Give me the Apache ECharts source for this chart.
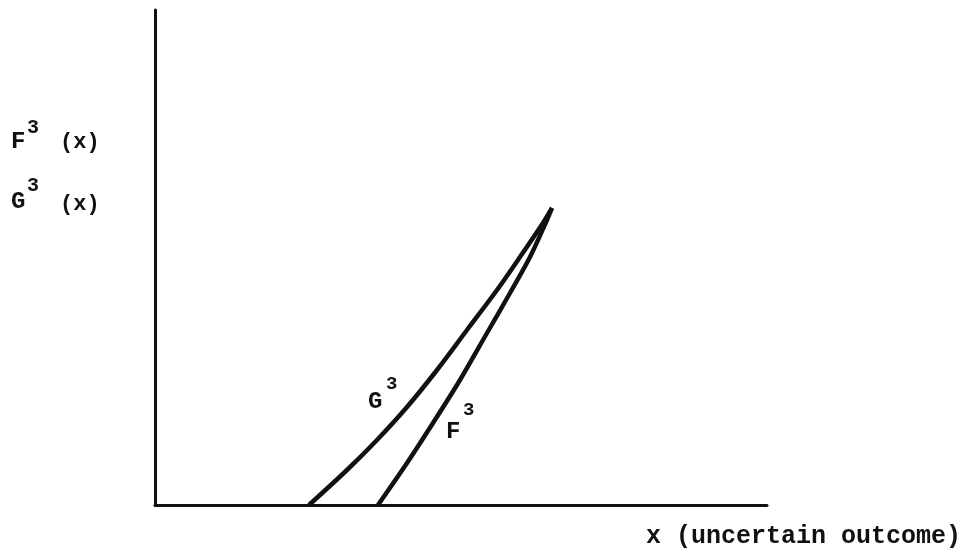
<!DOCTYPE html>
<html>
<head>
<meta charset="utf-8">
<script src="https://cdn.jsdelivr.net/npm/echarts@6/dist/echarts.min.js"></script>
<style>
  html, body { margin: 0; padding: 0; background: #fff; }
  #chart { width: 968px; height: 558px; }
</style>
</head>
<body>
<div id="chart"></div>
<script>
// curve points (x = outcome, y = F3/G3 value, arbitrary units)
const g3X = [154, 192, 222, 252, 282, 312, 342, 365, 388, 397];
const g3Y = [0, 35, 65, 98, 135, 175, 215, 248, 282, 297];
const f3X = [223, 252, 278, 305, 332, 355, 375, 392, 397];
const f3Y = [0, 42, 82, 125, 172, 212, 248, 285, 297];

const ink = '#111';
const font = '"Liberation Mono", "Courier New", monospace';

const chart = echarts.init(document.getElementById('chart'));

function txt(x, y, s, size) {
  return {
    type: 'text', left: x, top: y,
    style: { text: s, font: 'bold ' + size + 'px ' + font, fill: ink }
  };
}

const option = {
  backgroundColor: '#fff',
  animation: false,
  grid: { left: 155, top: 10, right: 201, bottom: 53 },
  xAxis: {
    type: 'value', min: 0, max: 612,
    axisLine: { show: true, lineStyle: { color: ink, width: 3 } },
    axisTick: { show: false }, axisLabel: { show: false }, splitLine: { show: false }
  },
  yAxis: {
    type: 'value', min: 0, max: 495,
    axisLine: { show: true, lineStyle: { color: ink, width: 3 } },
    axisTick: { show: false }, axisLabel: { show: false }, splitLine: { show: false }
  },
  series: [
    {
      name: 'G3', type: 'line', smooth: 0.3, showSymbol: false,
      data: g3X.map((x, i) => [x, g3Y[i]]),
      lineStyle: { color: ink, width: 4.5 }
    },
    {
      name: 'F3', type: 'line', smooth: 0.3, showSymbol: false,
      data: f3X.map((x, i) => [x, f3Y[i]]),
      lineStyle: { color: ink, width: 4.5 }
    }
  ],
  graphic: [
    txt(11, 130, 'F', 24),
    txt(27, 118, '3', 20),
    txt(60, 131, '(x)', 22),
    txt(11, 190, 'G', 24),
    txt(27, 176, '3', 20),
    txt(60, 193, '(x)', 22),
    txt(368, 390, 'G', 24),
    txt(386, 375, '3', 19),
    txt(446, 420, 'F', 24),
    txt(463, 401, '3', 19),
    txt(646, 524, 'x (uncertain outcome)', 25)
  ]
};
chart.setOption(option);
</script>
</body>
</html>
